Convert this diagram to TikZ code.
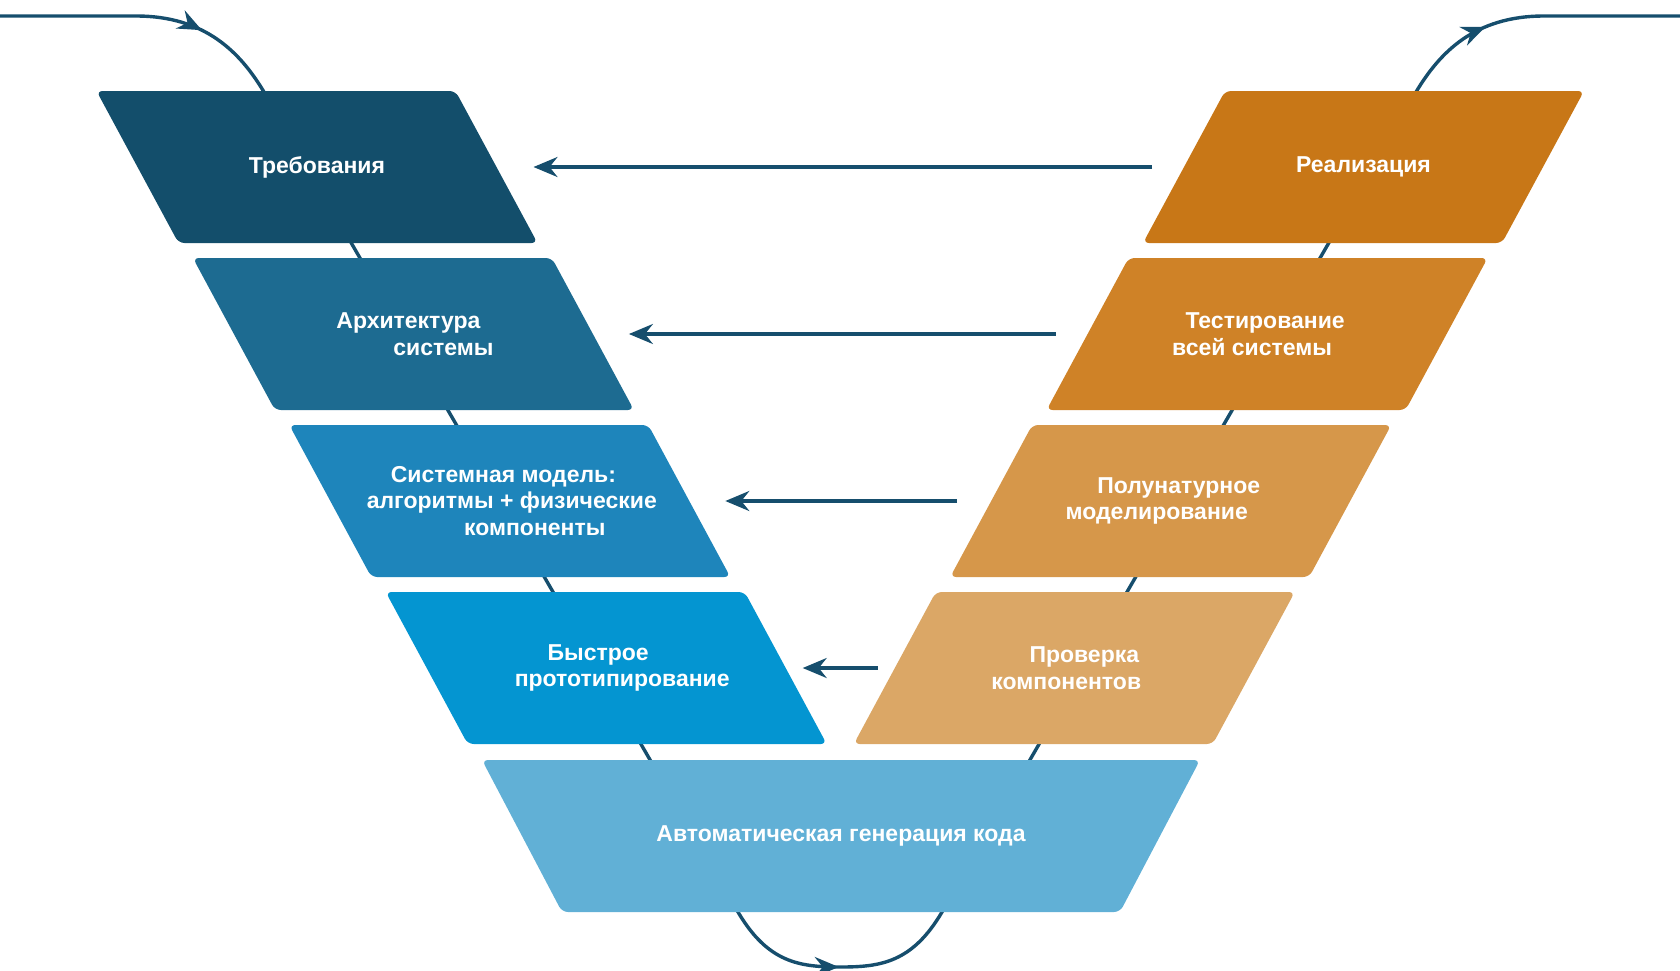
\documentclass[tikz,border=0pt]{standalone}
\usepackage{xcolor}
\usepackage{fontspec}
\setmainfont{Liberation Sans}
\usepackage{tikz}
\usetikzlibrary{arrows.meta,decorations.markings,backgrounds}

\definecolor{flowblue}{HTML}{164E6D}
\definecolor{reqblue}{HTML}{134E6B}
\definecolor{archblue}{HTML}{1D6B91}
\definecolor{modblue}{HTML}{1E85BB}
\definecolor{protoblue}{HTML}{0495D1}
\definecolor{codeblue}{HTML}{61B0D6}
\definecolor{implorange}{HTML}{C87717}
\definecolor{sysorange}{HTML}{CF8227}
\definecolor{hilorange}{HTML}{D6974A}
\definecolor{comporange}{HTML}{DBA766}

% one line of a label, moved sideways by #1
\newcommand{\lineat}[2]{\makebox[0pt]{\hspace*{#1}#2\hspace*{-#1}}}
% slanted slabs behind a label node: #1 node, #2 colour
\newcommand{\lslab}[2]{\fill[#2, rounded corners=3pt]
  ([xshift=-20.5pt]#1.north west) -- ([xshift=-20.5pt]#1.north east)
  -- ([xshift=20.5pt]#1.south east) -- ([xshift=20.5pt]#1.south west) -- cycle;}
\newcommand{\rslab}[2]{\fill[#2, rounded corners=3pt]
  ([xshift=20.5pt]#1.north west) -- ([xshift=20.5pt]#1.north east)
  -- ([xshift=-20.5pt]#1.south east) -- ([xshift=-20.5pt]#1.south west) -- cycle;}

\begin{document}
\begin{tikzpicture}[
  x=0.5pt, y=-0.5pt,
  >={Stealth[length=12pt,width=10pt,inset=4pt]},
  blk/.style={minimum width=179.5pt, minimum height=76pt, inner sep=0pt,
    outer sep=0pt, text=white, align=center,
    font=\bfseries\fontsize{11.5}{13.4}\selectfont},
  flow/.style={draw=flowblue, line width=1.7pt},
  arr/.style={flow, ->},
]
\useasboundingbox (0,0) rectangle (1680,970);

% Left branch
\node[blk] (L1) at (317,167)   {Требования};
\node[blk] (L2) at (413.4,334) {\lineat{-2.5pt}{Архитектура}\\\lineat{15pt}{системы}};
\node[blk] (L3) at (509.8,501) {\lineat{-3.2pt}{Системная модель:}\\\lineat{1pt}{алгоритмы + физические}\\\lineat{12.5pt}{компоненты}};
\node[blk] (L4) at (606.2,668) {\lineat{-4pt}{Быстрое}\\\lineat{8pt}{прототипирование}};

% Bottom
\node[blk, minimum width=319pt] (B) at (841,836) {Автоматическая генерация кода};

% Right branch
\node[blk] (R1) at (1363.5,167) {Реализация};
\node[blk] (R2) at (1267.1,334) {\lineat{-1pt}{Тестирование}\\\lineat{-7.5pt}{всей системы}};
\node[blk] (R3) at (1170.7,501) {\lineat{4pt}{Полунатурное}\\\lineat{-7pt}{моделирование}};
\node[blk] (R4) at (1074.3,668) {\lineat{5pt}{Проверка}\\\lineat{-4pt}{компонентов}};

\begin{scope}[on background layer]
% Flow line behind the slabs
\coordinate (in)  at (0,16);
\coordinate (out) at (1680,16);
\draw[flow, postaction={decorate, decoration={markings,
    mark=at position 102pt with {\arrow{>}},
    mark=at position 681pt with {\arrow{>}},
    mark=at position -98pt with {\arrow{>}}}}]
  (in) -- (136,16) .. controls (205,16) and (240,52) .. (264,92)
  -- (738,912) .. controls (768,963) and (800,967) .. (840,967)
  .. controls (880,967) and (912,963) .. (942,912)
  -- (1416,92) .. controls (1440,52) and (1475,16) .. (1544,16) -- (out);

\lslab{L1}{reqblue}
\lslab{L2}{archblue}
\lslab{L3}{modblue}
\lslab{L4}{protoblue}
\fill[codeblue, rounded corners=3pt]
  ([xshift=-20pt]B.north west) -- ([xshift=20pt]B.north east)
  -- ([xshift=-20pt]B.south east) -- ([xshift=20pt]B.south west) -- cycle;
\rslab{R1}{implorange}
\rslab{R2}{sysorange}
\rslab{R3}{hilorange}
\rslab{R4}{comporange}
\end{scope}

% Verification arrows
\draw[arr] ([xshift=-16pt]R1.west) -- ([xshift=18.5pt]L1.east);
\draw[arr] ([xshift=-16pt]R2.west) -- ([xshift=18pt]L2.east);
\draw[arr] ([xshift=-17pt]R3.west) -- ([xshift=18pt]L3.east);
\draw[arr] ([xshift=-8.5pt]R4.west) -- ([xshift=8.5pt]L4.east);

\end{tikzpicture}
\end{document}
